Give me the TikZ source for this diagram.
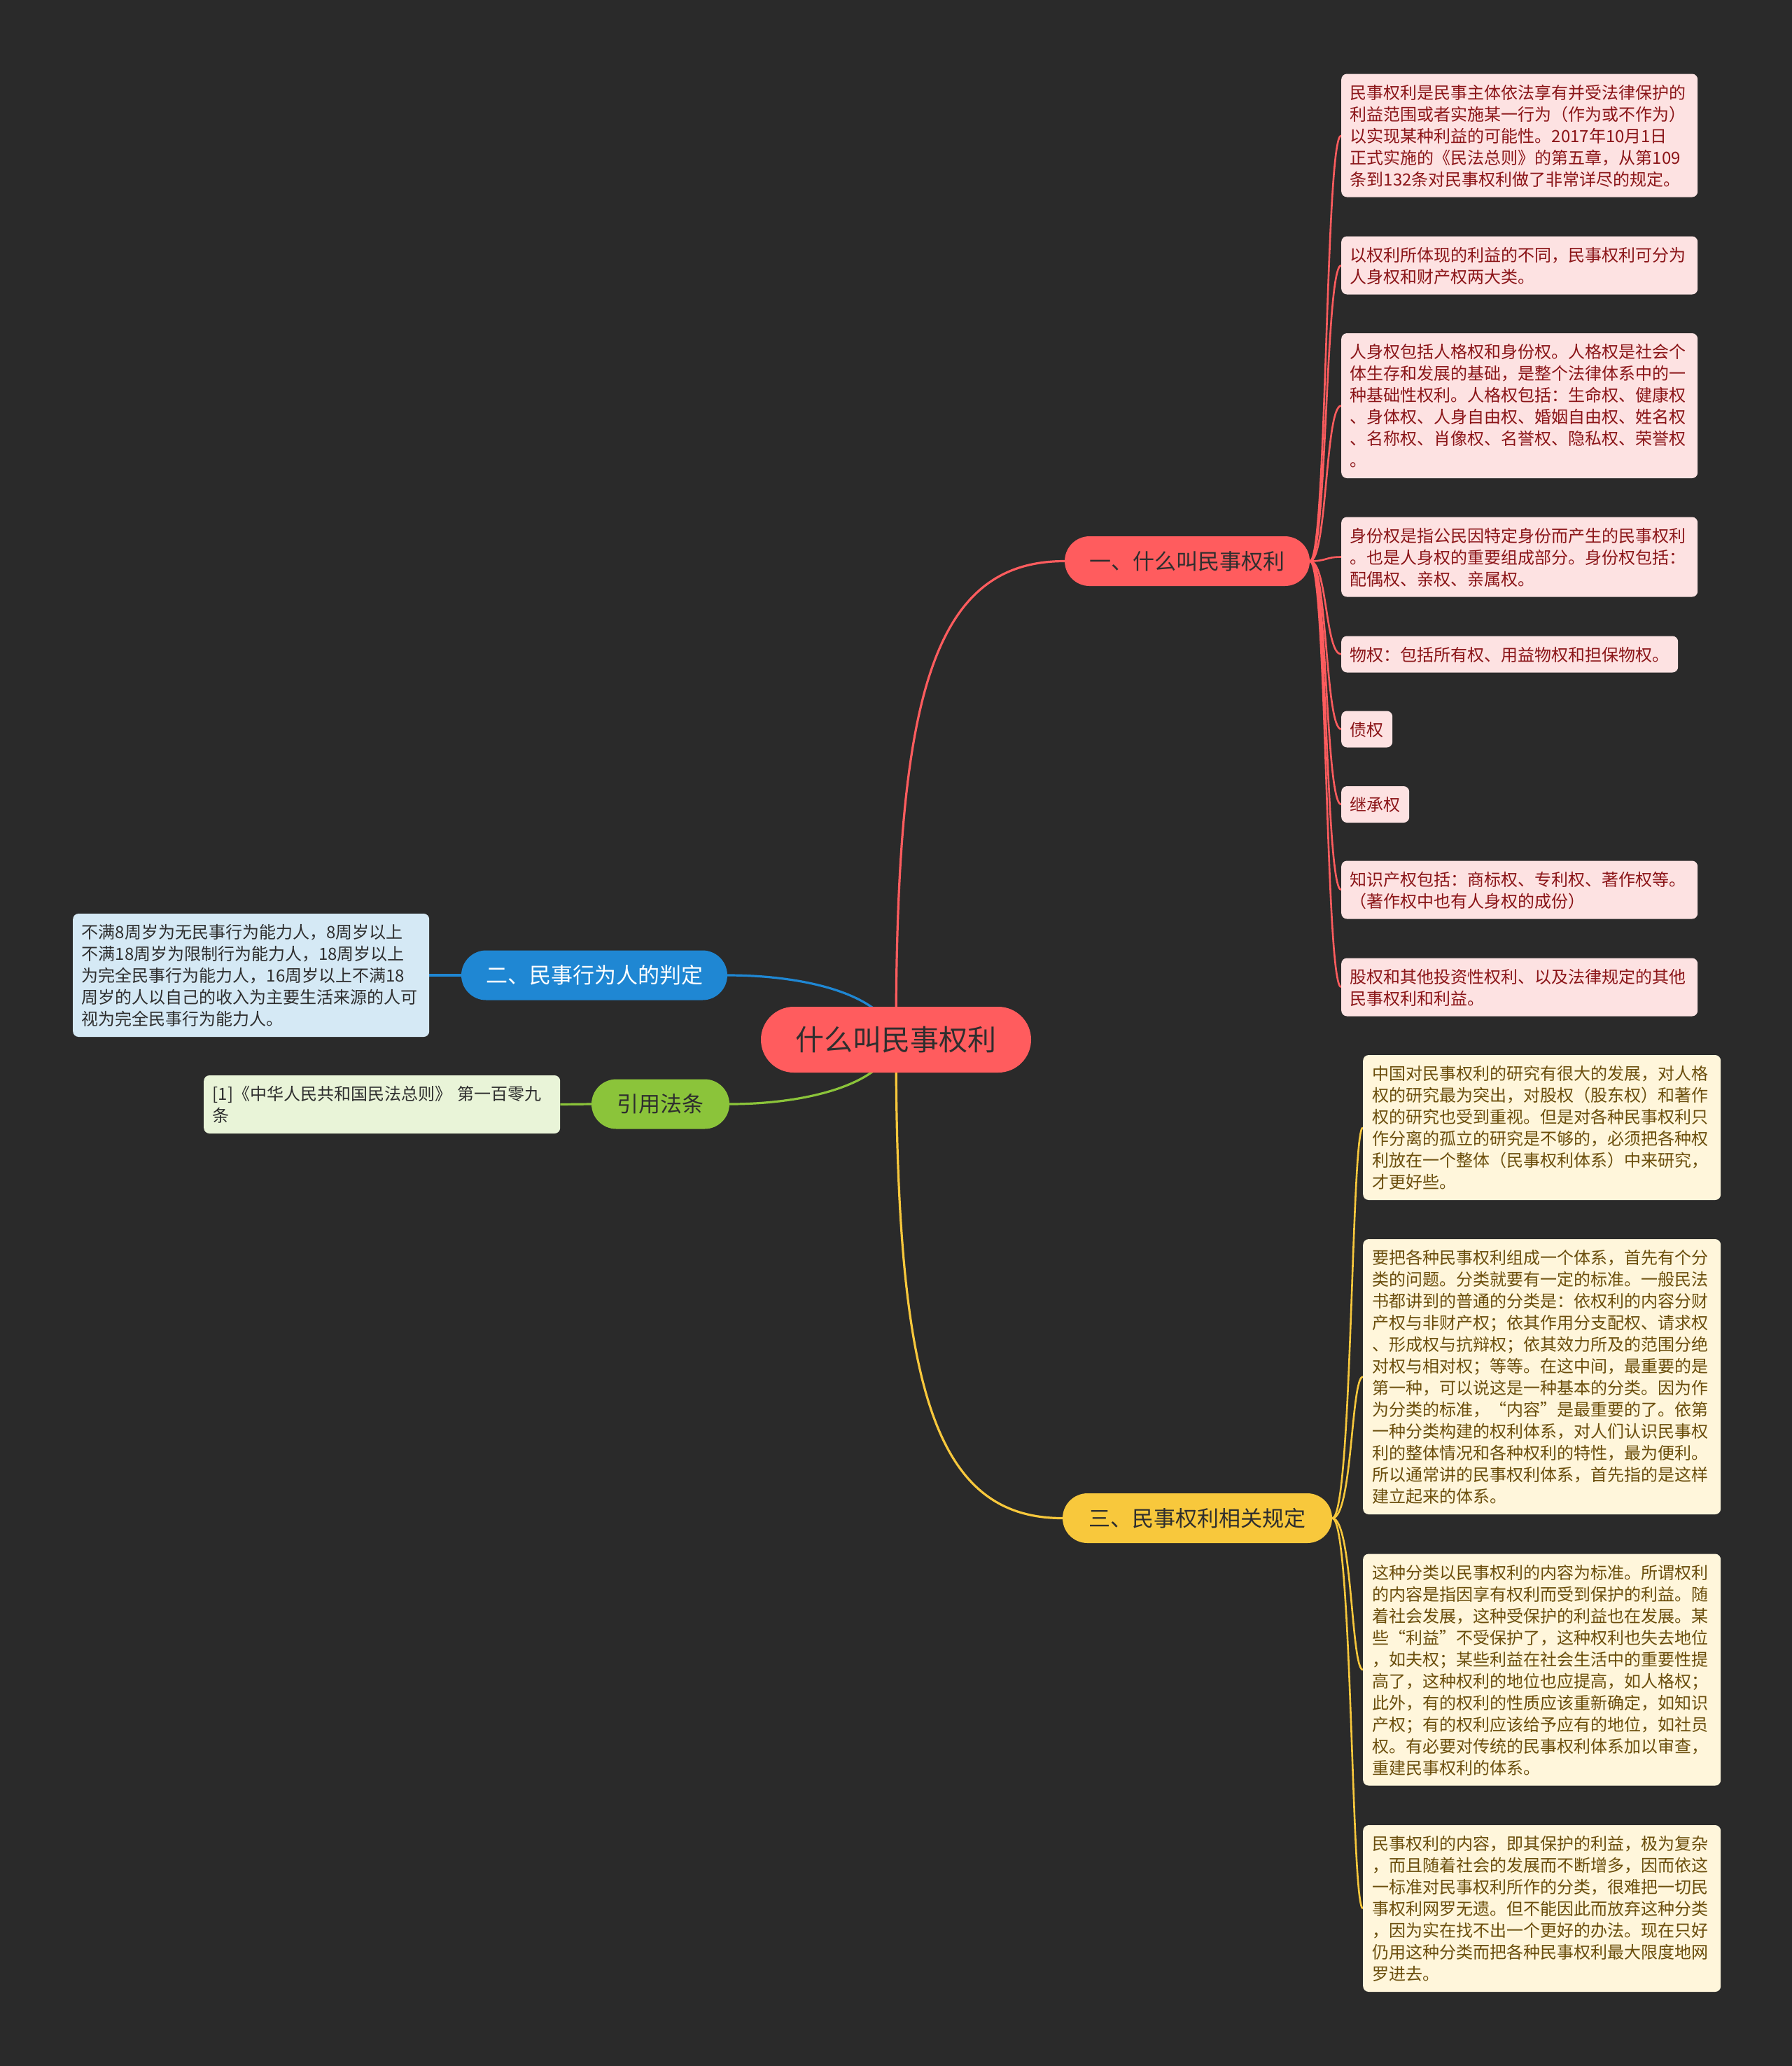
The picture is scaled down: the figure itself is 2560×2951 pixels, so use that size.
\documentclass[tikz,border=0pt]{standalone}
\usepackage{fontspec}
\setmainfont{Noto Sans CJK SC}
\usetikzlibrary{backgrounds}
\definecolor{bgc}{HTML}{2A2A2A}
\definecolor{redc}{HTML}{FF5C5E}
\definecolor{pinkfill}{HTML}{FDE2E2}
\definecolor{pinktext}{HTML}{8B1518}
\definecolor{yelc}{HTML}{F8C83C}
\definecolor{creamfill}{HTML}{FFF6DB}
\definecolor{creamtext}{HTML}{6B4E0C}
\definecolor{bluec}{HTML}{1F87D3}
\definecolor{bluefill}{HTML}{D5E9F5}
\definecolor{greenc}{HTML}{8BC43A}
\definecolor{greenfill}{HTML}{E9F4D8}
\definecolor{darktext}{HTML}{2E2E2E}
\newcommand\lstrut{\rule[-4pt]{0pt}{27pt}}
\tikzset{
  leafbase/.style={rounded corners=8pt, anchor=west, align=left,
    inner xsep=12.5pt, inner ysep=12.5pt,
    font=\fontsize{24}{31}\selectfont,
    execute at begin node=\lstrut, execute at end node=\lstrut},
  wideleaf/.style={leafbase, text width=484pt},
  pinkleaf/.style={fill=pinkfill, text=pinktext},
  creamleaf/.style={fill=creamfill, text=creamtext},
  blueleaf/.style={wideleaf, fill=bluefill, text=darktext},
  greenleaf/.style={wideleaf, fill=greenfill, text=darktext},
  pillbase/.style={rounded corners=35.5pt, minimum height=71pt, inner sep=0pt,
    font=\fontsize{31}{36}\selectfont, text=darktext},
  rootpill/.style={rounded corners=47pt, minimum height=94pt, minimum width=386pt,
    inner sep=0pt, fill=redc, font=\fontsize{41}{48}\selectfont, text=darktext},
  redline/.style={draw=redc, line width=3.2pt},
  blueline/.style={draw=bluec, line width=3.2pt},
  greenline/.style={draw=greenc, line width=3.2pt},
  yelline/.style={draw=yelc, line width=3.2pt},
}
\begin{document}
\begin{tikzpicture}[x=1pt, y=-1pt]
\useasboundingbox (0,0) rectangle (2560,2951);

% central and main branches
\node[rootpill] (root) at (1280,1485) {什么叫民事权利};
\node[pillbase, fill=redc, minimum width=350pt] (b1) at (1696,801.5) {一、什么叫民事权利};
\node[pillbase, fill=bluec, minimum width=380pt, text=white] (b2) at (849,1393) {二、民事行为人的判定};
\node[pillbase, fill=greenc, minimum width=197pt] (b3) at (943.5,1577) {引用法条};
\node[pillbase, fill=yelc, minimum width=385pt] (b4) at (1710.5,2168.5) {三、民事权利相关规定};

% branch 1 leaves
\node[wideleaf, pinkleaf] (p1) at (1916,193.5) {民事权利是民事主体依法享有并受法律保护的\\利益范围或者实施某一行为（作为或不作为）\\以实现某种利益的可能性。2017年10月1日\\正式实施的《民法总则》的第五章，从第109\\条到132条对民事权利做了非常详尽的规定。};
\node[wideleaf, pinkleaf] (p2) at (1916,379) {以权利所体现的利益的不同，民事权利可分为\\人身权和财产权两大类。};
\node[wideleaf, pinkleaf] (p3) at (1916,579.5) {人身权包括人格权和身份权。人格权是社会个\\体生存和发展的基础，是整个法律体系中的一\\种基础性权利。人格权包括：生命权、健康权\\、身体权、人身自由权、婚姻自由权、姓名权\\、名称权、肖像权、名誉权、隐私权、荣誉权\\。};
\node[wideleaf, pinkleaf] (p4) at (1916,795.5) {身份权是指公民因特定身份而产生的民事权利\\。也是人身权的重要组成部分。身份权包括：\\配偶权、亲权、亲属权。};
\node[leafbase, pinkleaf] (p5) at (1916,934.5) {物权：包括所有权、用益物权和担保物权。};
\node[leafbase, pinkleaf] (p6) at (1916,1041.5) {债权};
\node[leafbase, pinkleaf] (p7) at (1916,1149) {继承权};
\node[wideleaf, pinkleaf] (p8) at (1916,1271) {知识产权包括：商标权、专利权、著作权等。\\（著作权中也有人身权的成份）};
\node[wideleaf, pinkleaf] (p9) at (1916,1410) {股权和其他投资性权利、以及法律规定的其他\\民事权利和利益。};

% branch 2 / 3 leaves
\node[blueleaf] (bl) at (104,1393) {不满8周岁为无民事行为能力人，8周岁以上\\不满18周岁为限制行为能力人，18周岁以上\\为完全民事行为能力人，16周岁以上不满18\\周岁的人以自己的收入为主要生活来源的人可\\视为完全民事行为能力人。};
\node[greenleaf] (gl) at (291,1577.5) {[1]《中华人民共和国民法总则》 第一百零九\\条};

% branch 4 leaves
\node[wideleaf, creamleaf, inner xsep=13.5pt] (y1) at (1947,1610.5) {中国对民事权利的研究有很大的发展，对人格\\权的研究最为突出，对股权（股东权）和著作\\权的研究也受到重视。但是对各种民事权利只\\作分离的孤立的研究是不够的，必须把各种权\\利放在一个整体（民事权利体系）中来研究，\\才更好些。};
\node[wideleaf, creamleaf, inner xsep=13.5pt] (y2) at (1947,1966.5) {要把各种民事权利组成一个体系，首先有个分\\类的问题。分类就要有一定的标准。一般民法\\书都讲到的普通的分类是：依权利的内容分财\\产权与非财产权；依其作用分支配权、请求权\\、形成权与抗辩权；依其效力所及的范围分绝\\对权与相对权；等等。在这中间，最重要的是\\第一种，可以说这是一种基本的分类。因为作\\为分类的标准，“内容”是最重要的了。依第\\一种分类构建的权利体系，对人们认识民事权\\利的整体情况和各种权利的特性，最为便利。\\所以通常讲的民事权利体系，首先指的是这样\\建立起来的体系。};
\node[wideleaf, creamleaf, inner xsep=13.5pt] (y3) at (1947,2385) {这种分类以民事权利的内容为标准。所谓权利\\的内容是指因享有权利而受到保护的利益。随\\着社会发展，这种受保护的利益也在发展。某\\些“利益”不受保护了，这种权利也失去地位\\，如夫权；某些利益在社会生活中的重要性提\\高了，这种权利的地位也应提高，如人格权；\\此外，有的权利的性质应该重新确定，如知识\\产权；有的权利应该给予应有的地位，如社员\\权。有必要对传统的民事权利体系加以审查，\\重建民事权利的体系。};
\node[wideleaf, creamleaf, inner xsep=13.5pt] (y4) at (1947,2726) {民事权利的内容，即其保护的利益，极为复杂\\，而且随着社会的发展而不断增多，因而依这\\一标准对民事权利所作的分类，很难把一切民\\事权利网罗无遗。但不能因此而放弃这种分类\\，因为实在找不出一个更好的办法。现在只好\\仍用这种分类而把各种民事权利最大限度地网\\罗进去。};

\begin{scope}[on background layer]
  \fill[bgc] (0,0) rectangle (2560,2951);
  % root to branches
  \draw[redline] (root.center) .. controls (1280,1000) and (1330,801.5) .. (b1.west);
  \draw[yelline] (root.center) .. controls (1280,1970) and (1330,2168.5) .. (b4.west);
  \draw[blueline] (root.center) .. controls (1265,1420) and (1150,1393) .. (b2.east);
  \draw[greenline] (root.center) .. controls (1265,1550) and (1150,1577) .. (b3.east);
  % branch 1 to leaves
  \foreach \n in {p1,p2,p3,p4,p5,p6,p7,p8,p9}{
    \draw[redline, line width=2.6pt] (b1.east) .. controls (1896,801.5) and (1893,0 |- \n.west) .. (\n.west);
  }
  % branch 4 to leaves
  \foreach \n in {y1,y2,y3,y4}{
    \draw[yelline, line width=2.6pt] (b4.east) .. controls (1932,2168.5) and (1930,0 |- \n.west) .. (\n.west);
  }
  \draw[blueline] (bl.east) -- (b2.west);
  \draw[greenline] (gl.east) -- (b3.west);
\end{scope}
\end{tikzpicture}
\end{document}
